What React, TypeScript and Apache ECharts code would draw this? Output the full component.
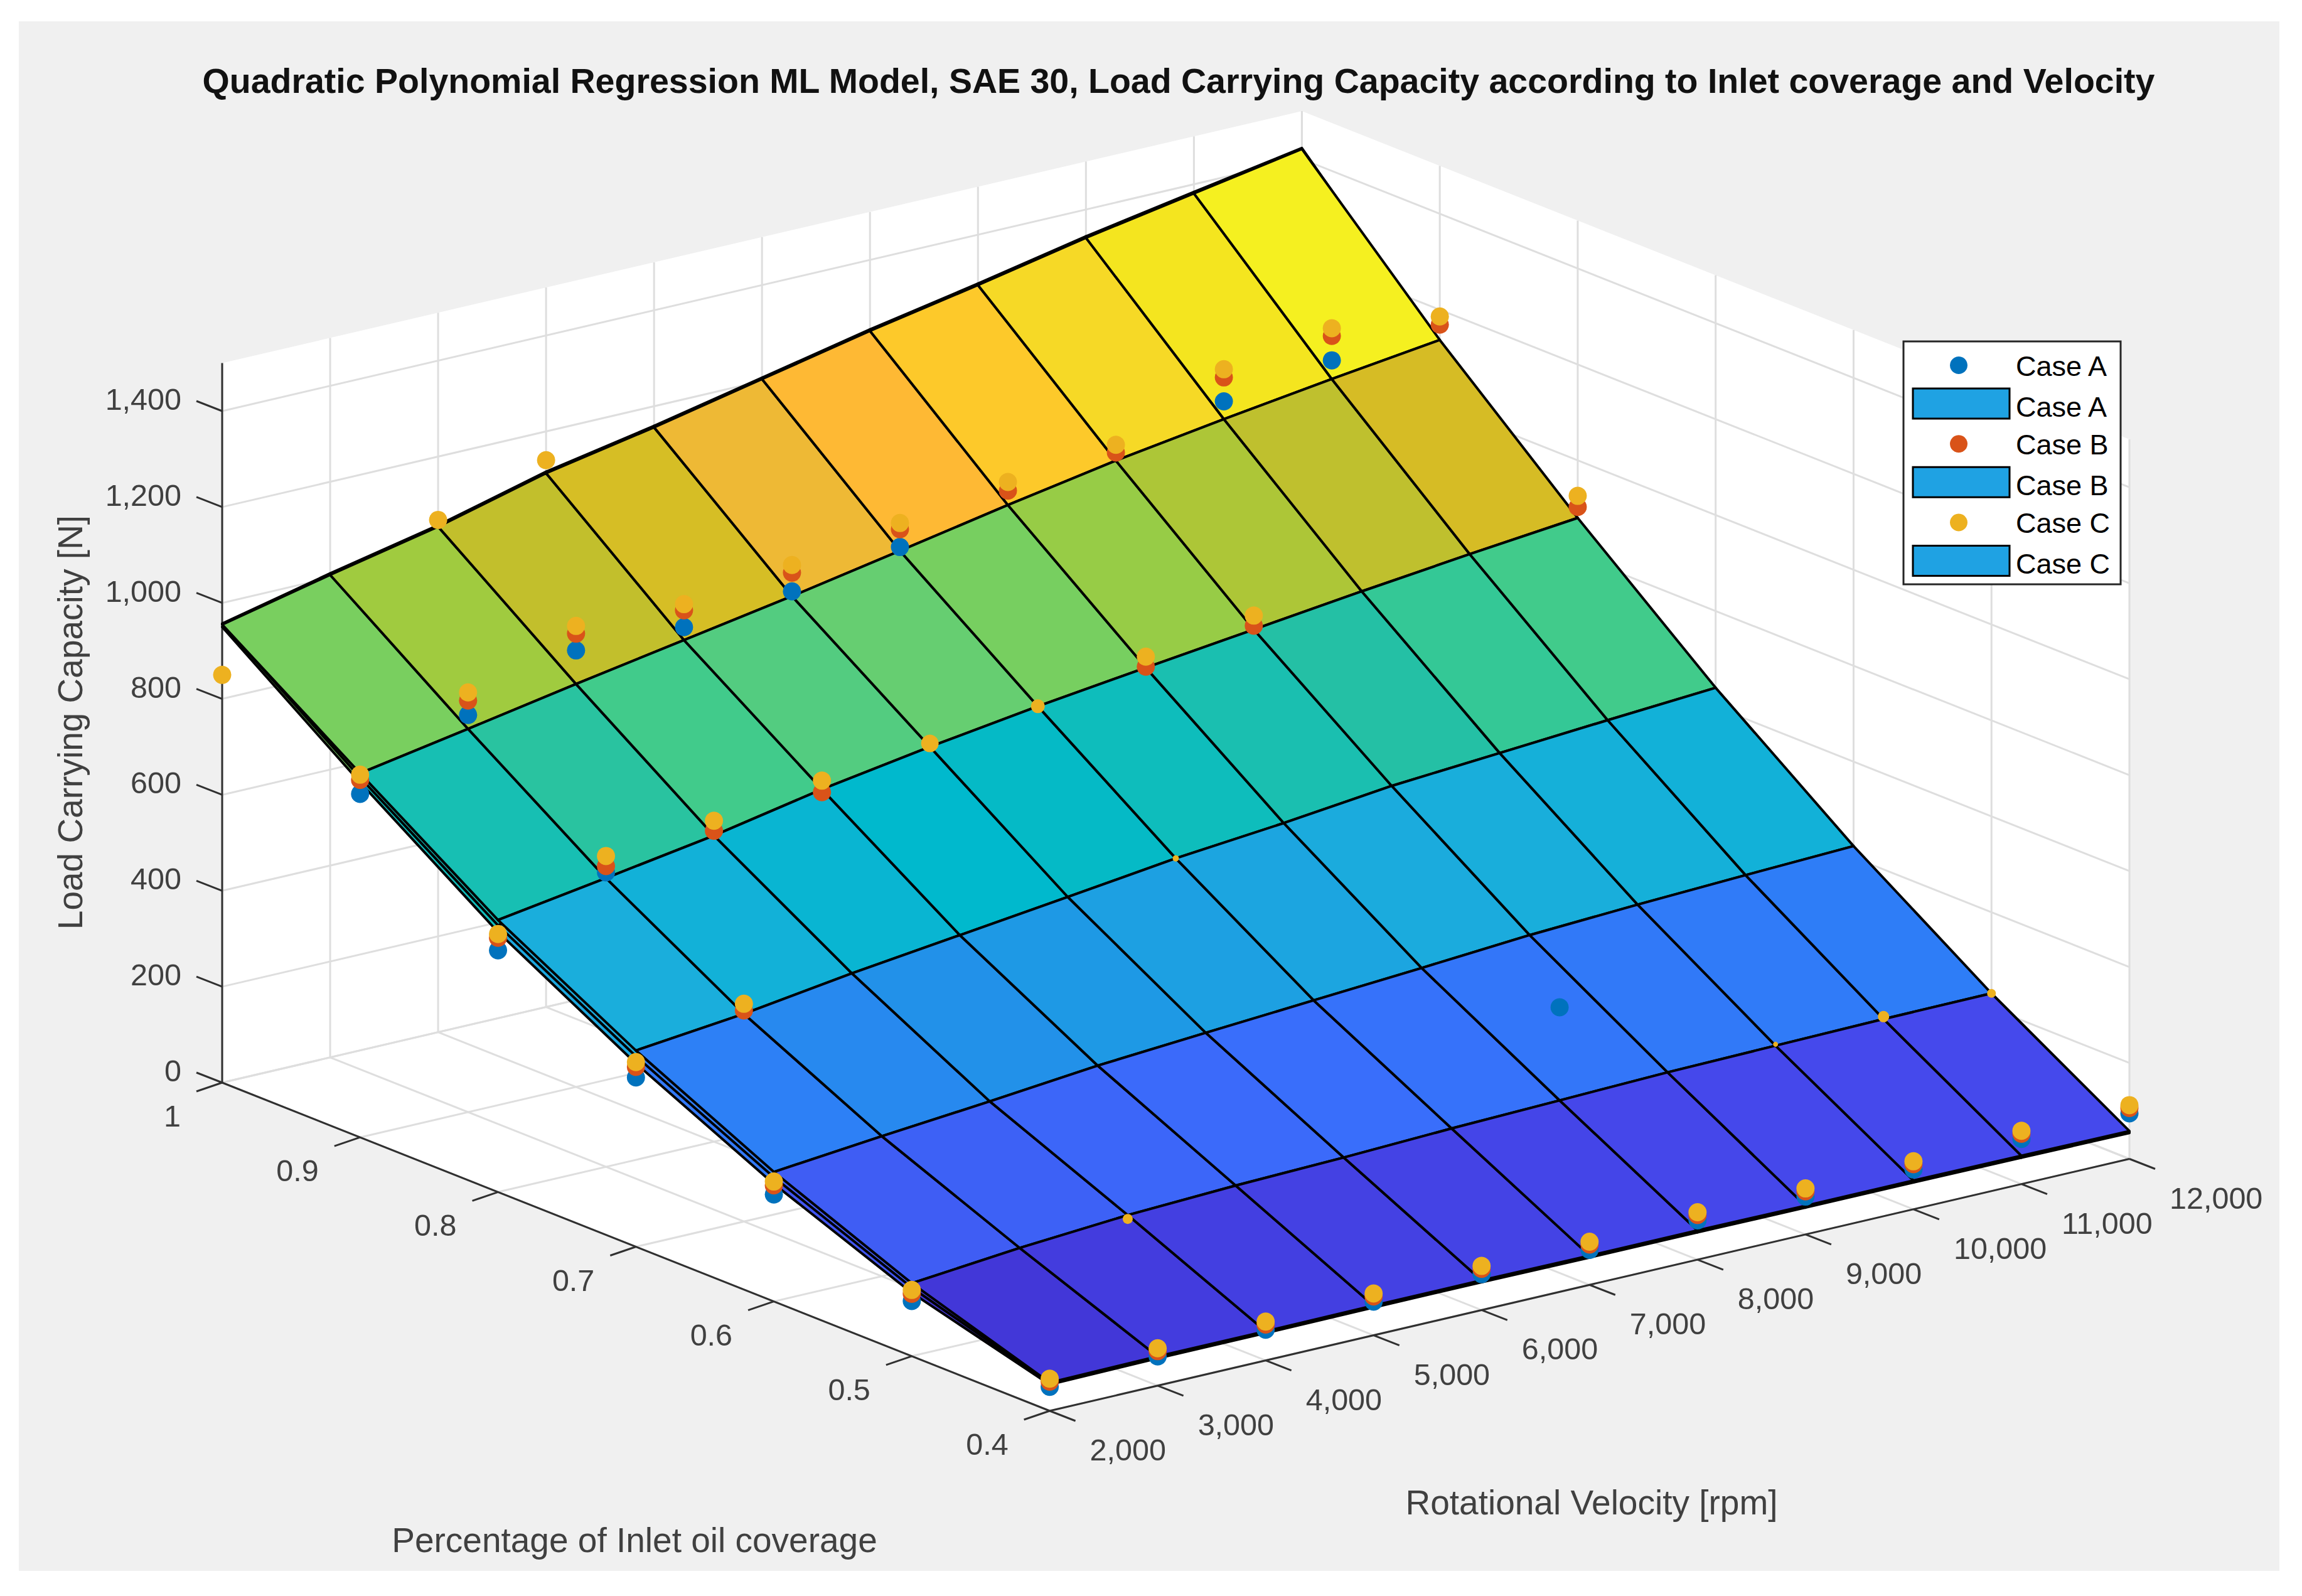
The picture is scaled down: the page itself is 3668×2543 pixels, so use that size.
import React, { useEffect, useRef } from "react";
import * as echarts from "echarts";

const titleText = "Quadratic Polynomial Regression ML Model, SAE 30, Load Carrying Capacity according to Inlet coverage and Velocity";
const xTitle = "Rotational Velocity [rpm]";
const yTitle = "Percentage of Inlet oil coverage";
const zTitle = "Load Carrying Capacity [N]";

const rpmValues = [2000, 3000, 4000, 5000, 6000, 7000, 8000, 9000, 10000, 11000, 12000];
const rpmLabels = ["2,000", "3,000", "4,000", "5,000", "6,000", "7,000", "8,000", "9,000", "10,000", "11,000", "12,000"];
const covValues = [1, 0.9, 0.8, 0.7, 0.6, 0.5, 0.4];
const covLabels = ["1", "0.9", "0.8", "0.7", "0.6", "0.5", "0.4"];
const zTicks = [0, 200, 400, 600, 800, 1000, 1200, 1400];
const zLabels = ["0", "200", "400", "600", "800", "1,000", "1,200", "1,400"];

// Fitted surfaces: one row per coverage value (1 → 0.4), one column per rpm value.
const surfaceC = [
  [955, 1006, 1054, 1113, 1156, 1204, 1252, 1295, 1341, 1381, 1421],
  [759, 799, 840, 879, 918, 960, 1003, 1043, 1077, 1108, 1137],
  [567, 602, 638, 682, 718, 750, 778, 805, 832, 857, 880],
  [409, 433, 465, 492, 519, 547, 568, 593, 609, 625, 640],
  [270, 292, 312, 334, 350, 365, 380, 396, 407, 416, 424],
  [152, 173, 189, 198, 204, 212, 218, 224, 227, 230, 231],
  [59, 61, 61, 62, 62, 61, 61, 60, 60, 59, 58],
];
const surfaceB = [
  [957, 1009, 1057, 1116, 1159, 1207, 1255, 1298, 1344, 1384, 1423],
  [750, 790, 830, 869, 908, 950, 993, 1033, 1067, 1098, 1127],
  [556, 591, 627, 671, 707, 739, 767, 794, 821, 846, 869],
  [397, 421, 453, 480, 507, 535, 556, 581, 597, 613, 628],
  [259, 281, 301, 323, 339, 354, 369, 385, 396, 405, 413],
  [143, 164, 180, 189, 195, 203, 209, 215, 218, 221, 222],
  [57, 59, 59, 60, 60, 59, 59, 58, 58, 57, 56],
];
const surfaceA = [
  [950, 1000, 1048, 1107, 1149, 1197, 1245, 1288, 1334, 1375, 1415],
  [740, 780, 820, 859, 898, 940, 983, 1023, 1057, 1088, 1117],
  [542, 577, 613, 657, 693, 725, 753, 780, 807, 832, 855],
  [382, 406, 438, 465, 492, 520, 541, 566, 582, 598, 613],
  [245, 267, 287, 309, 325, 340, 355, 371, 382, 391, 399],
  [132, 153, 169, 178, 184, 192, 198, 204, 207, 210, 211],
  [55, 57, 57, 58, 58, 57, 57, 56, 56, 55, 54],
];

// Measured points; null where the point lies behind the surface.
const caseA = [
  [null, null, null, null, null, null, null, null, null, null, null],
  [716, 828, 910, 906, 928, 968, null, null, 1114, 1147, null],
  [504, 614, null, null, null, null, null, null, null, null, null],
  [353, null, null, null, null, null, null, null, null, null, null],
  [223, null, null, null, null, null, null, null, null, null, null],
  [115, null, null, null, null, null, 412, null, null, null, null],
  [50, 61, 64, 70, 75, 73, 82, 79, 83, 94, 95],
];
const caseB = [
  [null, null, null, null, null, null, null, null, null, null, null],
  [745, 858, 945, 941, 967, 1005, 1033, 1060, 1164, 1198, 1169],
  [530, 627, 648, 676, null, null, 780, 813, null, null, 903],
  [375, 440, null, null, null, null, null, null, null, null, null],
  [242, null, null, null, null, null, null, null, null, null, null],
  [130, null, null, null, null, null, null, null, null, null, null],
  [61, 72, 75, 81, 86, 84, 93, 90, 94, 105, 106],
];
const caseC = [
  [850, null, 1068, 1140, null, null, null, null, null, null, null],
  [756, 875, 961, 954, 983, 1018, 1051, 1076, 1181, 1214, 1186],
  [538, 648, 669, 700, 725, 750, 801, 834, null, null, 926],
  [385, 454, null, null, null, 547, null, null, null, null, null],
  [250, null, null, null, null, null, null, null, null, null, null],
  [138, null, 181, null, null, null, null, null, 230, 235, 231],
  [67, 78, 81, 87, 92, 90, 99, 96, 100, 111, 112],
];

// Points that the surface partly cuts: [rpm, coverage, radius left visible].
const cutPoints = [
  [2000, 0.7, 14.5], [2000, 0.6, 14.5], [2000, 0.5, 14.5],
  [6000, 0.8, 14], [7000, 0.8, 11], [7000, 0.7, 5],
  [4000, 0.5, 8], [10000, 0.5, 4], [11000, 0.5, 9], [12000, 0.5, 7],
];

const caseNames = ["Case A", "Case B", "Case C"];
const caseColors = ["#0072BD", "#D95319", "#EDB120"];
const swatchColor = "#1FA2E3";

// Colour ramp read from the faces: [position, colour]
const ramp: [number, string][] = [
  [0, "#3E26A8"], [0.084, "#4237D8"], [0.127, "#4549EC"], [0.17, "#3F5CF4"], [0.22, "#3A6CFB"],
  [0.27, "#2E7EF7"], [0.33, "#1F96E6"], [0.4, "#1AAEDC"], [0.46, "#08B5D2"], [0.484, "#00B9CD"],
  [0.508, "#05BAC6"], [0.528, "#0EBDBC"], [0.548, "#1ABFB0"], [0.568, "#24C0A5"], [0.586, "#34C896"],
  [0.6, "#3FCB8C"], [0.65, "#60CD78"], [0.695, "#78CF5F"], [0.73, "#9FCB3F"], [0.774, "#C2BF2C"],
  [0.79, "#D6BC25"], [0.805, "#D6BE25"], [0.84, "#EEB935"], [0.876, "#FEB934"], [0.907, "#FDC92A"],
  [0.94, "#F6D826"], [0.97, "#F4E51F"], [1, "#F5F020"],
];

const FONT = "'Liberation Sans', Arial, Helvetica, sans-serif";
const TEXT = "#404040";
const AXIS = "#303030";
const GRID = "#DEDEDE";

// Orthographic view of the 3-D box
const project = (rpm: number, cov: number, z: number): number[] => {
  const u = (1 - cov) / 0.6;
  const v = (rpm - 2000) / 10000;
  return [354 + u * 1318.6 + v * 1720.4, 1725 + u * 523 - v * 401.5 - z * 0.7643];
};

const hexToRgb = (h: string) => [1, 3, 5].map((i) => parseInt(h.slice(i, i + 2), 16));
const faceColor = (z: number) => {
  const t = Math.max(0, Math.min(1, (z - 58) / (1421 - 58)));
  for (let i = 1; i < ramp.length; i++) {
    if (t <= ramp[i][0]) {
      const f = (t - ramp[i - 1][0]) / (ramp[i][0] - ramp[i - 1][0]);
      const a = hexToRgb(ramp[i - 1][1]);
      const b = hexToRgb(ramp[i][1]);
      return `rgb(${a.map((v, k) => Math.round(v + (b[k] - v) * f)).join(",")})`;
    }
  }
  return ramp[ramp.length - 1][1];
};

const layer = (z: number, items: any[], draw: (item: any, api: any) => any) => ({
  type: "custom",
  coordinateSystem: "cartesian2d",
  z,
  silent: true,
  clip: false,
  animation: false,
  data: items.map((_, i) => [i, i]),
  renderItem: (p: any, api: any) => draw(items[p.dataIndex], api),
});

const cellsOf = (m: number[][]) => {
  const cells: number[][][] = [];
  for (let i = 0; i < covValues.length - 1; i++) {
    for (let j = 0; j < rpmValues.length - 1; j++) {
      cells.push([
        [rpmValues[j], covValues[i], m[i][j]],
        [rpmValues[j + 1], covValues[i], m[i][j + 1]],
        [rpmValues[j + 1], covValues[i + 1], m[i + 1][j + 1]],
        [rpmValues[j], covValues[i + 1], m[i + 1][j]],
      ]);
    }
  }
  return cells;
};

const poly = (api: any, pts: number[][]) =>
  pts.map((p) => api.coord(project(p[0], p[1], p[2])));

const surfaceLayer = (z: number, m: number[][]) =>
  layer(z, cellsOf(m), (cell, api) => ({
    type: "polygon",
    shape: { points: poly(api, cell) },
    style: { fill: faceColor(cell[1][2]), stroke: "#000", lineWidth: 4, lineJoin: "round" },
  }));

const isCut = (rpm: number, cov: number) =>
  cutPoints.find((c) => c[0] === rpm && Math.abs(c[1] - cov) < 1e-6);

const pointsOf = (m: (number | null)[][], color: string, cut: boolean) => {
  const out: any[] = [];
  m.forEach((row, i) =>
    row.forEach((z, j) => {
      if (z === null) return;
      const c = isCut(rpmValues[j], covValues[i]);
      if (cut ? !c : !!c) return;
      out.push({ p: [rpmValues[j], covValues[i], z], r: c ? c[2] : 14.5, color });
    })
  );
  return out;
};

const pointLayer = (z: number, items: any[]) =>
  layer(z, items, (it, api) => {
    const [cx, cy] = api.coord(project(it.p[0], it.p[1], it.p[2]));
    return { type: "circle", shape: { cx, cy, r: it.r }, style: { fill: it.color } };
  });

const segLayer = (z: number, segs: any[], stroke: string, lineWidth: number) =>
  layer(z, segs, (s, api) => {
    const a = api.coord(s[0]);
    const b = api.coord(s[1]);
    return { type: "line", shape: { x1: a[0], y1: a[1], x2: b[0], y2: b[1] }, style: { stroke, lineWidth } };
  });

const textLayer = (z: number, items: any[]) =>
  layer(z, items, (t, api) => {
    const [x, y] = api.coord(t.at);
    return {
      type: "text",
      x,
      y,
      rotation: t.rotation || 0,
      style: {
        text: t.text,
        fontFamily: FONT,
        fontSize: t.size,
        fill: TEXT,
        align: t.align,
        verticalAlign: "middle",
      },
    };
  });

const buildOption = () => {
  const gridSegs: number[][][] = [];
  rpmValues.forEach((r) => {
    gridSegs.push([project(r, 1, 0), project(r, 1, 1500)]);
    gridSegs.push([project(r, 1, 0), project(r, 0.4, 0)]);
  });
  covValues.forEach((c) => {
    gridSegs.push([project(12000, c, 0), project(12000, c, 1500)]);
    gridSegs.push([project(2000, c, 0), project(12000, c, 0)]);
  });
  zTicks.forEach((z) => {
    gridSegs.push([project(2000, 1, z), project(12000, 1, z)]);
    gridSegs.push([project(12000, 1, z), project(12000, 0.4, z)]);
  });

  const axisSegs: number[][][] = [
    [project(2000, 1, 0), project(2000, 1, 1500)],
    [project(2000, 1, 0), project(2000, 0.4, 0)],
    [project(2000, 0.4, 0), project(12000, 0.4, 0)],
  ];
  const texts: any[] = [];
  zTicks.forEach((z, i) => {
    const p = project(2000, 1, z);
    axisSegs.push([p, [p[0] - 41, p[1] - 16]]);
    texts.push({ at: [p[0] - 65, p[1] - 19], text: zLabels[i], size: 48.5, align: "right" });
  });
  covValues.forEach((c, i) => {
    const p = project(2000, c, 0);
    axisSegs.push([p, [p[0] - 41, p[1] + 14]]);
    texts.push({ at: [p[0] - 66, p[1] + 53], text: covLabels[i], size: 48.5, align: "right" });
  });
  rpmValues.forEach((r, i) => {
    const p = project(r, 0.4, 0);
    axisSegs.push([p, [p[0] + 41, p[1] + 16]]);
    texts.push({ at: [p[0] + 64, p[1] + 62], text: rpmLabels[i], size: 48.5, align: "left" });
  });
  texts.push({ at: [1011, 2454], text: yTitle, size: 55, align: "center" });
  texts.push({ at: [2536, 2394], text: xTitle, size: 55, align: "center" });
  texts.push({ at: [112, 1151], text: zTitle, size: 55, align: "center", rotation: Math.PI / 2 });

  const back = [
    [2000, 1, 1500], [12000, 1, 1500], [12000, 0.4, 1500],
    [12000, 0.4, 0], [2000, 0.4, 0], [2000, 1, 0],
  ];

  const legendRows = caseNames.flatMap((name, i) => [
    { kind: "marker", name, color: caseColors[i], row: i },
    { kind: "swatch", name, color: swatchColor, row: i },
  ]);
  const legend: any[] = [
    {
      type: "rect",
      shape: { x: 3033, y: 544, width: 346, height: 387 },
      style: { fill: "#fff", stroke: "#262626", lineWidth: 3 },
    },
  ];
  legendRows.forEach((l) => {
    const yM = 582 + l.row * 125.2;
    if (l.kind === "marker") {
      legend.push({ type: "circle", shape: { cx: 3121, cy: yM, r: 14 }, style: { fill: l.color } });
      legend.push({
        type: "text", x: 3212, y: yM + 1,
        style: { text: l.name, fontFamily: FONT, fontSize: 45, fill: "#000", align: "left", verticalAlign: "middle" },
      });
    } else {
      legend.push({
        type: "rect",
        shape: { x: 3048, y: yM + 37, width: 154, height: 48 },
        style: { fill: l.color, stroke: "#000", lineWidth: 3 },
      });
      legend.push({
        type: "text", x: 3212, y: yM + 66,
        style: { text: l.name, fontFamily: FONT, fontSize: 45, fill: "#000", align: "left", verticalAlign: "middle" },
      });
    }
  });

  return {
    animation: false,
    backgroundColor: "#ffffff",
    title: {
      text: titleText,
      left: 1873,
      top: 96,
      textAlign: "center",
      textStyle: { fontFamily: FONT, fontWeight: "bold", fontSize: 55.5, color: "#111" },
    },
    grid: { left: 0, right: 0, top: 0, bottom: 0 },
    xAxis: { type: "value", min: 0, max: 3668, show: false },
    yAxis: { type: "value", min: 0, max: 2543, inverse: true, show: false },
    graphic: legend.map((g) => ({ ...g, z: 100, silent: true })),
    series: [
      layer(0, [0], (_, api) => {
        const a = api.coord([30, 34]);
        const b = api.coord([3632, 2503]);
        return {
          type: "rect",
          shape: { x: a[0], y: a[1], width: b[0] - a[0], height: b[1] - a[1] },
          style: { fill: "#F0F0F0" },
        };
      }),
      layer(1, [back], (pts, api) => ({
        type: "polygon",
        shape: { points: poly(api, pts) },
        style: { fill: "#fff" },
      })),
      segLayer(2, gridSegs, GRID, 3),
      segLayer(3, axisSegs, AXIS, 3),
      surfaceLayer(4, surfaceA),
      surfaceLayer(5, surfaceB),
      surfaceLayer(6, surfaceC),
      pointLayer(11, pointsOf(caseA, caseColors[0], false)),
      pointLayer(12, pointsOf(caseB, caseColors[1], false)),
      pointLayer(13, pointsOf(caseC, caseColors[2], false)),
      pointLayer(14, pointsOf(caseA, caseColors[0], true)),
      pointLayer(15, pointsOf(caseB, caseColors[1], true)),
      pointLayer(16, pointsOf(caseC, caseColors[2], true)),
      textLayer(17, texts),
    ],
  };
};

export default function App() {
  const ref = useRef<HTMLDivElement>(null);
  useEffect(() => {
    document.body.style.margin = "0";
    const chart = echarts.init(ref.current!, undefined, { renderer: "svg" });
    chart.setOption(buildOption() as any);
    return () => chart.dispose();
  }, []);
  return <div ref={ref} style={{ width: 3668, height: 2543 }} />;
}
